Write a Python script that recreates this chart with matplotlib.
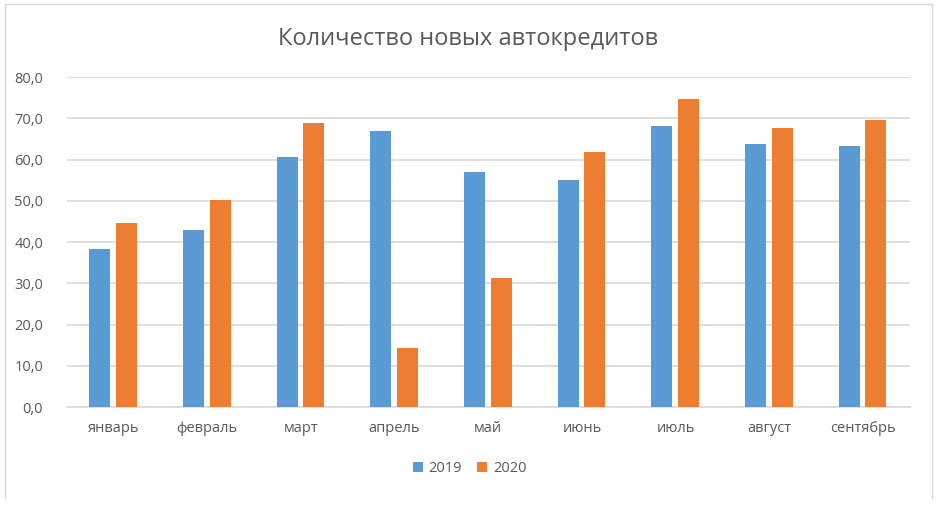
import numpy as np
import matplotlib.pyplot as plt
from matplotlib.lines import Line2D

# data
months = ['январь', 'февраль', 'март', 'апрель', 'май', 'июнь', 'июль', 'август', 'сентябрь']
credits_2019 = [38.4, 43.0, 60.7, 67.0, 57.0, 55.1, 68.2, 63.8, 63.3]
credits_2020 = [44.7, 50.2, 68.9, 14.3, 31.3, 61.9, 74.8, 67.7, 69.7]
yticks = [0, 10, 20, 30, 40, 50, 60, 70, 80]

blue = '#5b9bd5'
orange = '#ed7d31'
grey = '#595959'

plt.rcParams['font.family'] = ['Open Sans', 'DejaVu Sans']

fig = plt.figure(figsize=(9.39, 5.07), dpi=100)
ax = fig.add_axes([0.071, 0.197, 0.898, 0.651])

x = np.arange(len(months))
w = 0.224
ax.bar(x - 0.148, credits_2019, w, color=blue, label='2019', zorder=3)
ax.bar(x + 0.138, credits_2020, w, color=orange, label='2020', zorder=3)

ax.set_xlim(-0.5, len(months) - 0.5)
ax.set_ylim(0, 80)
ax.set_yticks(yticks)
ax.set_yticklabels([f'{v:.1f}'.replace('.', ',') for v in yticks])
ax.set_xticks(x)
ax.set_xticklabels(months)
ax.tick_params(axis='both', length=0, labelsize=10.5, labelcolor=grey)
ax.tick_params(axis='y', pad=17)
ax.tick_params(axis='x', pad=10)
ax.grid(axis='y', color='#d9d9d9', linewidth=1.2, zorder=0)
for s in ['top', 'right', 'left']:
    ax.spines[s].set_visible(False)
ax.spines['bottom'].set_color('#d9d9d9')
ax.spines['bottom'].set_linewidth(1.2)

fig.text(0.498, 0.924, 'Количество новых автокредитов', ha='center', va='center',
         fontsize=17, color=grey)

fig.legend(loc='center', bbox_to_anchor=(0.5, 0.075), ncol=2, frameon=False,
           fontsize=10.5, labelcolor=grey, handlelength=0.7, handleheight=0.7,
           handletextpad=0.4, columnspacing=1.0)

# thin chart frame
frame_col = '#d9d9d9'
fig.add_artist(Line2D([5 / 939, 5 / 939], [1 - 4 / 507, 1 - 498 / 507], color=frame_col, lw=1))
fig.add_artist(Line2D([932 / 939, 932 / 939], [1 - 4 / 507, 1 - 498 / 507], color=frame_col, lw=1))
fig.add_artist(Line2D([5 / 939, 932 / 939], [1 - 4 / 507, 1 - 4 / 507], color=frame_col, lw=1))

fig.savefig('out.png', dpi=100)
